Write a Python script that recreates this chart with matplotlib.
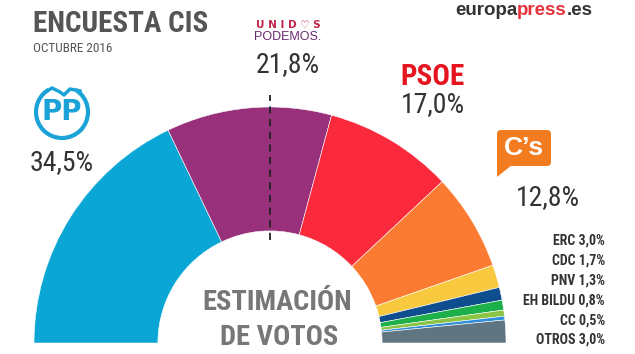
import numpy as np
import matplotlib
matplotlib.use('Agg')
from matplotlib import pyplot as plt
from matplotlib import font_manager
from matplotlib.patches import Circle, FancyBboxPatch, Polygon

# ---- data ----
parties = ['PP', 'Unidos Podemos', 'PSOE', "C's", 'ERC', 'CDC', 'PNV', 'EH BILDU', 'CC', 'OTROS']
votes = [34.5, 21.8, 17.0, 12.8, 3.0, 1.7, 1.3, 0.8, 0.5, 3.0]
colors = ['#0AA7D6', '#98307B', '#FA2A3C', '#FC7B33', '#F8C83E',
          '#0E4D8E', '#1DB04A', '#8CC443', '#2E8FD8', '#5F7582']
small_parties = parties[4:]
small_votes = votes[4:]

# pick a narrow font if there is one
installed = set(f.name for f in font_manager.fontManager.ttflist)
narrow = 'DejaVu Sans'
for cand in ['Roboto Condensed', 'Liberation Sans Narrow', 'DejaVu Sans Condensed']:
	if cand in installed:
		narrow = cand
		break

def pct(v):
	return ('%.1f%%' % v).replace('.', ',')

W, H = 635, 354
fig = plt.figure(figsize=(W/100, H/100), dpi=100)
ax = fig.add_axes([0, 0, 1, 1])

# pixel helper: y measured from the top of the picture
def Y(y):
	return H - y

cx, cy, R = 270, Y(343), 236
wedges, _ = ax.pie(votes + [sum(votes)], colors=colors + ['none'], startangle=180,
	counterclock=False, radius=R, center=(cx, cy),
	wedgeprops=dict(width=R*0.525, edgecolor='white', linewidth=0.4))
wedges[-1].set_visible(False)

# half-way mark
ax.plot([cx, cx], [Y(240), Y(95)], color='#222222', lw=1.3, ls=(0, (4, 3)))

ax.set_xlim(0, W)
ax.set_ylim(0, H)
ax.set_aspect('equal')
ax.axis('off')

dark = '#333333'

# titles
ax.text(33, Y(32), 'ENCUESTA CIS', family=narrow, weight='bold', fontsize=21, color='#555555')
ax.text(33, Y(52), 'OCTUBRE 2016', family=narrow, fontsize=9.5, color='#555555')

t1 = ax.text(455, Y(19), 'europa', family='Liberation Sans', weight='bold', fontsize=13.5,
	color=dark, va='bottom')
t2 = ax.annotate('press', xy=(1, 0), xycoords=t1, va='bottom', family='Liberation Sans',
	weight='bold', fontsize=13.5, color='#E5323C')
ax.annotate('.es', xy=(1, 0), xycoords=t2, va='bottom', family='Liberation Sans',
	weight='bold', fontsize=13.5, color=dark)

# Unidos Podemos
ax.text(288, Y(28), 'U N I D \u2661 S', family='DejaVu Sans', weight='bold', fontsize=7.5,
	color='#C0234A', ha='center')
ax.text(288, Y(31), 'PODEMOS.', family='Liberation Sans', fontsize=9, color='#6A2B70',
	ha='center', va='top')
ax.text(288, Y(72), pct(votes[1]), family=narrow, fontsize=20, color=dark, ha='center')

# PSOE
ax.text(433, Y(85), 'PSOE', family=narrow, weight='bold', fontsize=21, color='#E5141E', ha='center')
ax.text(433, Y(112), pct(votes[2]), family=narrow, fontsize=20, color=dark, ha='center')

# PP
ax.add_patch(Circle((62, Y(112)), 26, fill=False, edgecolor='#1BA3D8', lw=3))
ax.add_patch(Polygon([(48, Y(84)), (76, Y(84)), (76, Y(92)), (48, Y(92))], closed=True,
	facecolor='white', edgecolor='none'))
ax.plot([44, 52, 60, 64, 70, 80], [Y(93), Y(88), Y(92), Y(95), Y(89), Y(91)], color='#1BA3D8', lw=2.5)
ax.text(62, Y(112), 'PP', family='DejaVu Sans', weight='bold', fontsize=20, color='#1BA3D8',
	ha='center', va='center')
ax.text(62, Y(170), pct(votes[0]), family=narrow, fontsize=20, color=dark, ha='center')

# C's
ax.add_patch(FancyBboxPatch((497, Y(166)), 54, 36, boxstyle='round,pad=0,rounding_size=4',
	facecolor='#F47C20', edgecolor='none'))
ax.add_patch(Polygon([(497, Y(160)), (497, Y(177)), (512, Y(165))], closed=True,
	facecolor='#F47C20', edgecolor='none'))
ax.text(524, Y(148), 'C\u2019s', family='Liberation Sans', weight='bold', fontsize=19,
	color='white', ha='center', va='center')
ax.text(548, Y(205), pct(votes[3]), family=narrow, fontsize=20, color=dark, ha='center')

# small parties
for i in range(len(small_parties)):
	ax.text(605, Y(245 + 19.8 * i), small_parties[i] + ' ' + pct(small_votes[i]), family=narrow,
		weight='bold', fontsize=10, color=dark, ha='right')

# centre label
ax.text(277, Y(310), 'ESTIMACI\u00d3N', family=narrow, weight='bold', fontsize=20.5, color='#777777', ha='center')
ax.text(279, Y(345), 'DE VOTOS', family=narrow, weight='bold', fontsize=20.5, color='#777777', ha='center')

plt.savefig('out.png', dpi=100)
